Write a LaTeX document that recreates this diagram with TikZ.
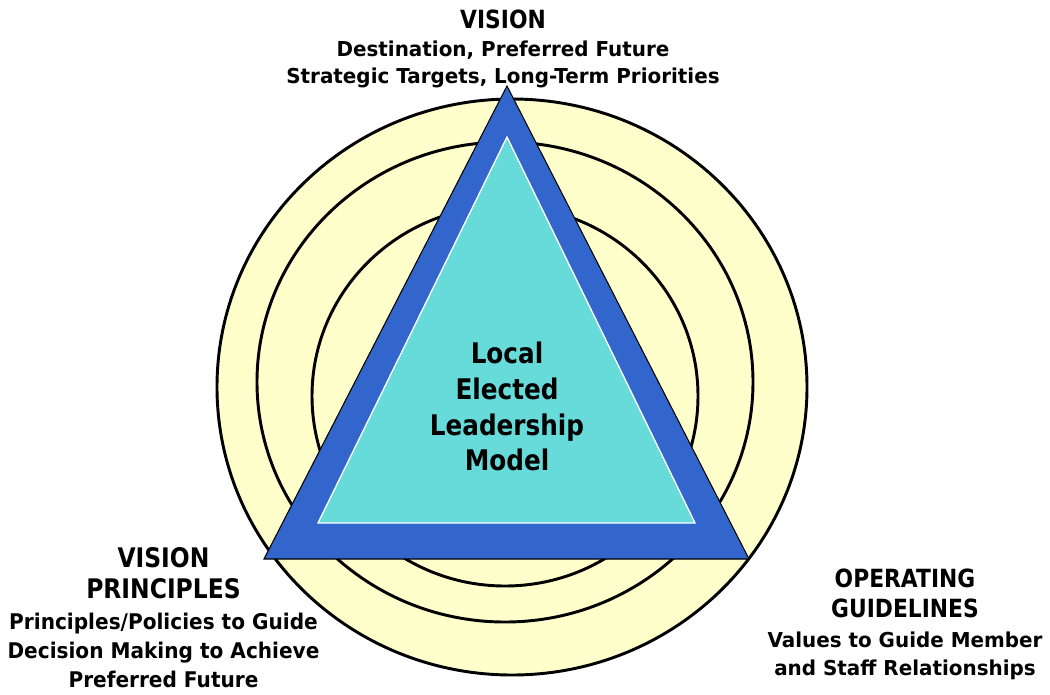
\documentclass[tikz,border=0pt]{standalone}
\usepackage{fontspec}
\setmainfont{DejaVu Sans}[FakeStretch=0.87]
\newfontfamily\subfont{DejaVu Sans}[FakeStretch=0.97]
\newfontfamily\subbfont{DejaVu Sans}[FakeStretch=0.93]
\definecolor{ringyellow}{HTML}{FFFFCC}
\definecolor{triblue}{HTML}{3366CC}
\definecolor{tricyan}{HTML}{66DBD9}
\begin{document}
\begin{tikzpicture}[x=0.75pt,y=-0.75pt,
  ring/.style={fill=ringyellow,draw=black,line width=2.2pt},
  txt/.style={anchor=base,inner sep=0pt,font=\bfseries},
  head/.style={txt,font=\fontsize{18.8pt}{22pt}\selectfont\bfseries},
  headb/.style={txt,font=\fontsize{20.2pt}{24pt}\selectfont\bfseries},
  sub/.style={txt,font=\subfont\fontsize{15.4pt}{18pt}\selectfont\bfseries},
  subb/.style={txt,font=\subbfont\fontsize{16.2pt}{19pt}\selectfont\bfseries},
  ctr/.style={txt,font=\fontsize{21.3pt}{25pt}\selectfont\bfseries}]
\useasboundingbox (0,0) rectangle (1050,694);
% rings
\draw[ring] (512,387) ellipse [x radius=295, y radius=288];
\draw[ring] (505,382) ellipse [x radius=248, y radius=240];
\draw[ring] (505,396) ellipse [x radius=193, y radius=190];
% triangles
\draw[fill=triblue,draw=black,line width=0.8pt] (507,86) -- (749,559) -- (264,559) -- cycle;
\draw[fill=tricyan,draw=white,line width=1pt] (507,137) -- (695,523) -- (318,523) -- cycle;
% center text
\node[ctr] (c1) at (507,363) {Local};
\node[ctr] (c2) at (507,399) {Elected};
\node[ctr] (c3) at (507,435) {Leadership};
\node[ctr] (c4) at (507,470) {Model};
% top block
\node[head] (t1) at (503,28) {VISION};
\node[sub] (t2) at (503,56.5) {Destination, Preferred Future};
\node[sub] (t3) at (503,83) {Strategic Targets, Long-Term Priorities};
% left block
\node[headb] (l1) at (163.5,567) {VISION};
\node[headb] (l2) at (163.5,598) {PRINCIPLES};
\node[subb] (l3) at (163.5,629) {Principles/Policies to Guide};
\node[subb] (l4) at (163.5,658) {Decision Making to Achieve};
\node[subb] (l5) at (163.5,687) {Preferred Future};
% right block
\node[head] (r1) at (905,587) {OPERATING};
\node[head] (r2) at (905,617) {GUIDELINES};
\node[sub] (r3) at (905,647) {Values to Guide Member};
\node[sub] (r4) at (905,675) {and Staff Relationships};
\end{tikzpicture}
\end{document}
